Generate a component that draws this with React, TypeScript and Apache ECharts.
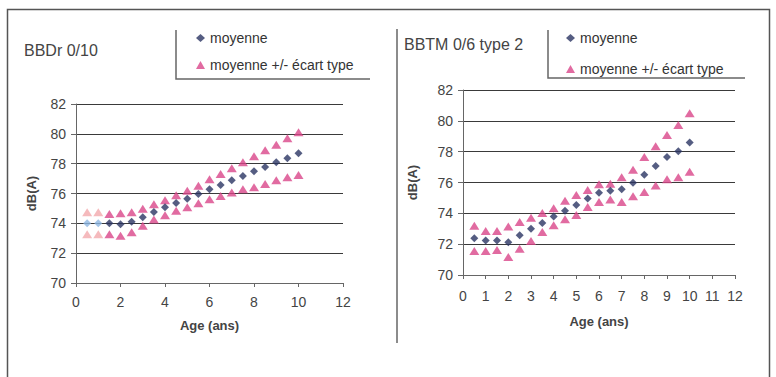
import React, { useEffect, useRef } from "react";
import * as echarts from "echarts";

// Ages (years) at which the road surfaces were measured
const ages = [0.5, 1, 1.5, 2, 2.5, 3, 3.5, 4, 4.5, 5, 5.5, 6, 6.5, 7, 7.5, 8, 8.5, 9, 9.5, 10];

// BBDr 0/10 — noise level dB(A)
const bbdrMean = [74.0, 74.0, 74.0, 73.94, 74.1, 74.4, 74.76, 75.08, 75.36, 75.65, 75.97, 76.28, 76.57, 76.89, 77.17, 77.49, 77.78, 78.09, 78.36, 78.7];
const bbdrUpper = [74.74, 74.74, 74.63, 74.67, 74.74, 74.98, 75.28, 75.55, 75.88, 76.19, 76.52, 76.95, 77.31, 77.69, 78.09, 78.49, 78.9, 79.27, 79.7, 80.1];
const bbdrLower = [73.27, 73.27, 73.27, 73.17, 73.4, 73.84, 74.25, 74.54, 74.85, 75.08, 75.34, 75.61, 75.83, 76.06, 76.28, 76.42, 76.64, 76.89, 77.09, 77.24];

// BBTM 0/6 type 2 — noise level dB(A)
const bbtmMean = [72.38, 72.23, 72.23, 72.12, 72.58, 73.0, 73.37, 73.8, 74.17, 74.54, 74.97, 75.34, 75.47, 75.56, 75.99, 76.51, 77.07, 77.65, 78.02, 78.6];
const bbtmUpper = [73.2, 72.86, 72.86, 73.14, 73.44, 73.72, 74.02, 74.33, 74.82, 75.19, 75.51, 75.88, 75.92, 76.34, 76.83, 77.65, 78.35, 79.08, 79.73, 80.49];
const bbtmLower = [71.56, 71.56, 71.62, 71.17, 71.71, 72.21, 72.79, 73.22, 73.61, 73.89, 74.41, 74.74, 74.89, 74.74, 75.11, 75.39, 75.8, 76.21, 76.34, 76.7];

// The first BBDr ages are extrapolated and drawn in pale tones
const bbdrPaleCount = 2;

const titles = ["BBDr 0/10", "BBTM 0/6 type 2"];
const meanName = "moyenne";
const bandName = "moyenne +/- écart type";
const yName = "dB(A)";
const xName = "Age (ans)";

const NAVY = "#2b3563";
const PINK = "#d9468a";
const PALE_BLUE = "#8db6e2";
const PALE_PINK = "#f2a9ad";
const FONT = "'Liberation Sans', Arial, Helvetica, sans-serif";
const TEXT = "#444";

function points(values: number[], paleCount: number, paleColor: string) {
  return ages.map((a, i) =>
    i < paleCount ? { value: [a, values[i]], itemStyle: { color: paleColor } } : [a, values[i]]
  );
}

function axisPair(
  gridIndex: number,
  xInterval: number,
  xNameGap: number,
  xLabelMargin: number,
  yNameGap: number
) {
  const line = { show: true, lineStyle: { color: "#666", width: 1 } };
  const x = {
    type: "value",
    gridIndex,
    min: 0,
    max: 12,
    interval: xInterval,
    name: xName,
    nameLocation: "middle",
    nameGap: xNameGap,
    nameTextStyle: { fontFamily: FONT, fontSize: 13, fontWeight: "bold", color: TEXT },
    axisLine: line,
    axisTick: { show: true, length: 4, lineStyle: { color: "#666" } },
    axisLabel: { fontFamily: FONT, fontSize: 14, color: TEXT, margin: xLabelMargin },
    splitLine: { show: false },
  };
  const y = {
    type: "value",
    gridIndex,
    min: 70,
    max: 82,
    interval: 2,
    name: yName,
    nameLocation: "middle",
    nameRotate: 90,
    nameGap: yNameGap,
    nameTextStyle: { fontFamily: FONT, fontSize: 13, fontWeight: "bold", color: TEXT },
    axisLine: line,
    axisTick: { show: true, length: 5, lineStyle: { color: "#666" } },
    axisLabel: { fontFamily: FONT, fontSize: 14, color: TEXT, margin: 10 },
    splitLine: { show: true, lineStyle: { color: "#3a3a3a", width: 1 } },
  };
  return { x, y };
}

function seriesFor(
  idx: number,
  mean: number[],
  upper: number[],
  lower: number[],
  paleCount: number
) {
  const band = (values: number[]) => ({
    type: "scatter",
    name: bandName,
    xAxisIndex: idx,
    yAxisIndex: idx,
    symbol: "triangle",
    symbolSize: [10, 8],
    itemStyle: { color: PINK },
    z: 2,
    data: points(values, paleCount, PALE_PINK),
  });
  return [
    band(upper),
    band(lower),
    {
      type: "scatter",
      name: meanName,
      xAxisIndex: idx,
      yAxisIndex: idx,
      symbol: "diamond",
      symbolSize: [8, 8],
      itemStyle: { color: NAVY },
      z: 3,
      data: points(mean, paleCount, PALE_BLUE),
    },
  ];
}

function legendAt(left: number, gap: number) {
  return {
    orient: "vertical",
    left,
    top: 26,
    selectedMode: false,
    itemWidth: 9,
    itemHeight: 8,
    itemGap: gap,
    textStyle: { fontFamily: FONT, fontSize: 14, color: "#333" },
    data: [
      { name: meanName, icon: "diamond", itemStyle: { color: NAVY } },
      { name: bandName, icon: "triangle", itemStyle: { color: PINK } },
    ],
  };
}

export default function App() {
  const ref = useRef<HTMLDivElement>(null);

  useEffect(() => {
    if (!ref.current) return;
    const chart = echarts.init(ref.current, undefined, { renderer: "svg" });
    const left = axisPair(0, 2, 36, 12, 38);
    const right = axisPair(1, 1, 40, 14, 44);

    chart.setOption({
      animation: false,
      backgroundColor: "#fff",
      title: [
        {
          text: titles[0],
          left: 19,
          top: 37,
          textStyle: { fontFamily: FONT, fontSize: 16, fontWeight: "normal", color: "#444" },
        },
        {
          text: titles[1],
          left: 399,
          top: 31,
          textStyle: { fontFamily: FONT, fontSize: 16, fontWeight: "normal", color: "#444" },
        },
      ],
      legend: [legendAt(191, 13), legendAt(561, 17)],
      grid: [
        { left: 76, top: 104, width: 267, height: 179 },
        { left: 463, top: 90, width: 272, height: 185 },
      ],
      xAxis: [left.x, right.x],
      yAxis: [left.y, right.y],
      series: [
        ...seriesFor(0, bbdrMean, bbdrUpper, bbdrLower, bbdrPaleCount),
        ...seriesFor(1, bbtmMean, bbtmUpper, bbtmLower, 0),
      ],
      graphic: [
        {
          type: "rect",
          silent: true,
          shape: { x: 7.5, y: 9.5, width: 762, height: 420 },
          style: { fill: "none", stroke: "#555", lineWidth: 1.5 },
        },
        {
          type: "line",
          silent: true,
          shape: { x1: 397, y1: 29, x2: 397, y2: 343 },
          style: { stroke: "#666", lineWidth: 1.5 },
        },
        {
          type: "polyline",
          silent: true,
          shape: { points: [[176, 30], [176, 79], [370, 79]] },
          style: { stroke: "#666", fill: "none", lineWidth: 1.5 },
        },
        {
          type: "polyline",
          silent: true,
          shape: { points: [[548, 30], [548, 78], [745, 78]] },
          style: { stroke: "#666", fill: "none", lineWidth: 1.5 },
        },
      ],
    });

    return () => chart.dispose();
  }, []);

  return (
    <div
      ref={ref}
      style={{ position: "fixed", left: 0, top: 0, width: 776, height: 377 }}
    />
  );
}
